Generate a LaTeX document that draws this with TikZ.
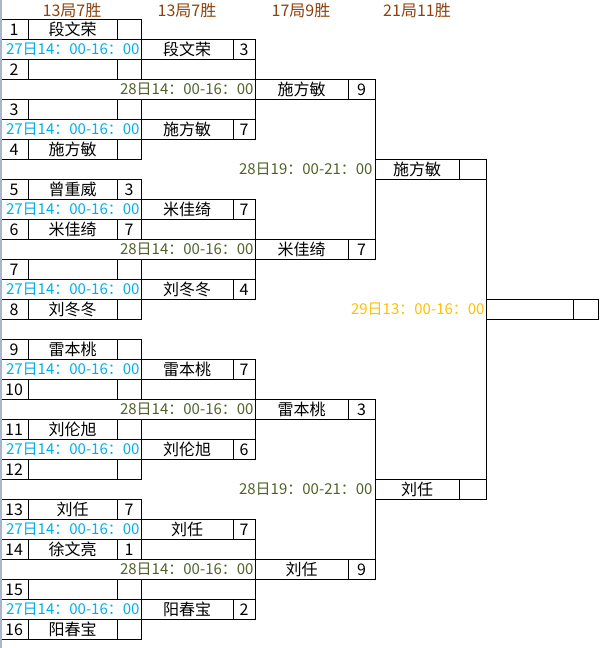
\documentclass[tikz,border=0pt]{standalone}
\usepackage{fontspec}
\setmainfont{Noto Sans CJK SC}
\usepackage{tikz}
\usetikzlibrary{positioning}
\definecolor{hdrbrown}{RGB}{140,66,12}
\definecolor{dayblue}{RGB}{0,176,240}
\definecolor{daygreen}{RGB}{79,98,40}
\definecolor{daygold}{RGB}{255,192,0}
\definecolor{frameline}{RGB}{170,182,204}

\begin{document}
\begin{tikzpicture}[
    x=1pt, y=-1pt,
    line width=0.9pt,
    cell/.style={draw, rectangle, minimum height=20pt, inner sep=0pt, outer sep=0pt, anchor=west, font=\fontsize{16}{16}\selectfont},
    seedno/.style={cell, minimum width=28pt},
    pname/.style={cell, minimum width=89pt},
    pscore/.style={cell, minimum width=24pt},
    hdr/.style={inner sep=0pt, text=hdrbrown, font=\fontsize{16}{16}\selectfont},
    daytext/.style={inner sep=0pt, anchor=east, font=\fontsize{15}{15}\selectfont}
]
    \useasboundingbox (0,0) rectangle (607,648);

    % 表头
    \node[hdr] (h1) at (72,10.5) {13局7胜};
    \node[hdr] (h2) at (187,10.5) {13局7胜};
    \node[hdr] (h3) at (301,10.5) {17局9胜};
    \node[hdr] (h4) at (417,10.5) {21局11胜};

    % 第一轮 (16 人)
    \foreach \i/\nm/\sc in {1/段文荣/{}, 2/{}/{}, 3/{}/{}, 4/施方敏/{}, 5/曾重威/3, 6/米佳绮/7, 7/{}/{}, 8/刘冬冬/{},
                            9/雷本桃/{}, 10/{}/{}, 11/刘伦旭/{}, 12/{}/{}, 13/刘任/7, 14/徐文亮/1, 15/{}/{}, 16/阳春宝/{}} {
        \node[seedno] (s\i) at (0,40*\i-10.5) {\i};
        \node[pname, right=0pt of s\i] (n\i) {\nm};
        \node[pscore, right=0pt of n\i] (c\i) {\sc};
    }
    \foreach \m in {1,...,8}
        \node[daytext, text=dayblue] (da\m) at (140,80*\m-30.5) {27日14：00-16：00};

    % 第二轮
    \foreach \m/\nm/\sc in {1/段文荣/3, 2/施方敏/7, 3/米佳绮/7, 4/刘冬冬/4, 5/雷本桃/7, 6/刘伦旭/6, 7/刘任/7, 8/阳春宝/2} {
        \node[pname, minimum width=92pt] (p\m) at (141,80*\m-30.5) {\nm};
        \node[pscore, minimum width=22pt, right=0pt of p\m] (q\m) {\sc};
    }
    \foreach \k [evaluate=\k as \a using int(2*\k-1), evaluate=\k as \b using int(2*\k),
                 evaluate=\k as \u using int(4*\k-2), evaluate=\k as \w using int(4*\k-1)] in {1,...,4} {
        \draw (q\a.north east) -- (q\b.south east);
        \draw (c\u.south east) -- (c\u.south east -| q\b.east);
        \draw (c\w.north east) -- (c\w.north east -| q\b.east);
        \node[daytext, text=daygreen] (db\k) at (254,160*\k-70.5) {28日14：00-16：00};
    }

    % 第三轮
    \foreach \k/\nm/\sc in {1/施方敏/9, 2/米佳绮/7, 3/雷本桃/3, 4/刘任/9} {
        \node[pname, minimum width=93pt] (r\k) at (255,160*\k-70.5) {\nm};
        \node[pscore, minimum width=27pt, right=0pt of r\k] (t\k) {\sc};
    }
    \foreach \j [evaluate=\j as \a using int(2*\j-1), evaluate=\j as \b using int(2*\j)] in {1,2} {
        \draw (t\a.north east) -- (t\b.south east);
        \node[daytext, text=daygreen] (dc\j) at (373,320*\j-150.5) {28日19：00-21：00};
    }

    % 半决赛
    \foreach \j/\nm in {1/施方敏, 2/刘任} {
        \node[pname, minimum width=84pt] (u\j) at (375,320*\j-150.5) {\nm};
        \node[pscore, minimum width=27pt, right=0pt of u\j] (v\j) {};
    }
    \draw (v1.north east) -- (v2.south east);

    % 决赛
    \node[pname, minimum width=87pt] (fn) at (486,309.5) {};
    \node[pscore, minimum width=25pt, right=0pt of fn] (fs) {};
    \node[daytext, text=daygold] (dd) at (485,309.5) {29日13：00-16：00};

    % 窗口边线
    \draw[frameline, line width=1.5pt] (0.75,0) -- (0.75,648);
\end{tikzpicture}
\end{document}
